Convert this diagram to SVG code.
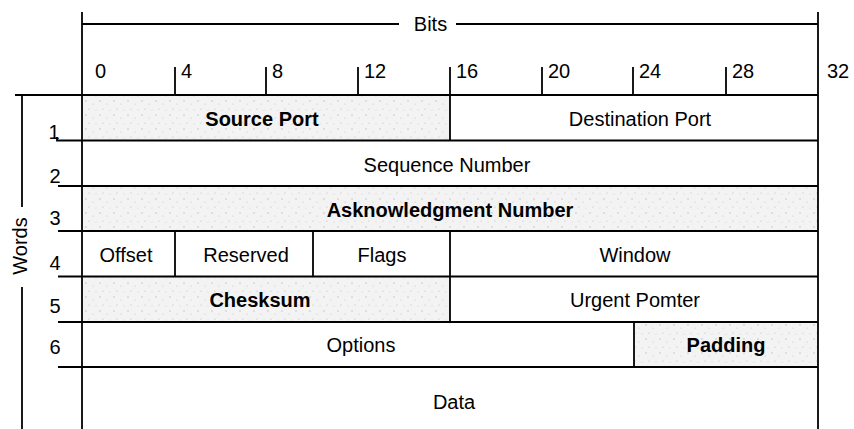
<svg xmlns="http://www.w3.org/2000/svg" width="854" height="429" viewBox="0 0 854 429">
<defs>
<pattern id="speck" width="14" height="14" patternUnits="userSpaceOnUse">
<rect width="14" height="14" fill="#f3f3f3"/>
<circle cx="2" cy="3" r="0.7" fill="#bbb"/>
<circle cx="9" cy="6" r="0.6" fill="#c4c4c4"/>
<circle cx="5" cy="11" r="0.6" fill="#bdbdbd"/>
<circle cx="12" cy="12" r="0.5" fill="#c8c8c8"/>
</pattern>
</defs>
<style>
.ln{stroke:#000;stroke-width:1.8;fill:none}
.sh{fill:url(#speck)}
.t{font-family:"Liberation Sans",Arial,sans-serif;font-size:20px;fill:#000;text-anchor:middle}
.b{font-weight:bold}
.d{font-family:"Liberation Sans",Arial,sans-serif;font-size:20px;fill:#000}
.n{font-family:"Liberation Sans",Arial,sans-serif;font-size:20px;fill:#000;text-anchor:middle}
</style>
<rect width="854" height="429" fill="#fff"/>

<g id="shading">
<rect class="sh" x="83" y="96" width="367" height="44"/>
<rect class="sh" x="83" y="187" width="735" height="44"/>
<rect class="sh" x="83" y="277" width="367" height="45"/>
<rect class="sh" x="634" y="323" width="184" height="44"/>
</g>

<g id="connectors">
<line class="ln" x1="82" y1="12" x2="82" y2="429"/>
<line class="ln" x1="818" y1="12" x2="818" y2="429"/>
<line class="ln" x1="82" y1="24" x2="399" y2="24"/>
<line class="ln" x1="456" y1="24" x2="818" y2="24"/>
<line class="ln" x1="175" y1="67" x2="175" y2="95"/>
<line class="ln" x1="266" y1="67" x2="266" y2="95"/>
<line class="ln" x1="358" y1="67" x2="358" y2="95"/>
<line class="ln" x1="542" y1="67" x2="542" y2="95"/>
<line class="ln" x1="633" y1="67" x2="633" y2="95"/>
<line class="ln" x1="726" y1="67" x2="726" y2="95"/>
<line class="ln" x1="450" y1="67" x2="450" y2="140.5"/>
<line class="ln" x1="15" y1="95" x2="818" y2="95"/>
<path class="ln" d="M57 137 L57 140.5 L818 140.5"/>
<line class="ln" x1="58" y1="186" x2="818" y2="186"/>
<line class="ln" x1="58" y1="231" x2="818" y2="231"/>
<line class="ln" x1="58" y1="276.5" x2="818" y2="276.5"/>
<line class="ln" x1="58" y1="322" x2="818" y2="322"/>
<line class="ln" x1="58" y1="367" x2="818" y2="367"/>
<line class="ln" x1="175" y1="231" x2="175" y2="276.5"/>
<line class="ln" x1="313" y1="231" x2="313" y2="276.5"/>
<line class="ln" x1="450" y1="231" x2="450" y2="322"/>
<line class="ln" x1="634" y1="322" x2="634" y2="367"/>
<line class="ln" x1="22" y1="95" x2="22" y2="207"/>
<line class="ln" x1="22" y1="287" x2="22" y2="429"/>
</g>

<g id="axis-labels">
<text class="t" x="430.5" y="31">Bits</text>
<text class="d" x="95" y="78">0</text>
<text class="d" x="181" y="78">4</text>
<text class="d" x="272" y="78">8</text>
<text class="d" x="364" y="78">12</text>
<text class="d" x="456" y="78">16</text>
<text class="d" x="548" y="78">20</text>
<text class="d" x="639" y="78">24</text>
<text class="d" x="732" y="78">28</text>
<text class="d" x="827" y="78">32</text>
<text class="t" transform="translate(27 246) rotate(-90)">Words</text>
<text class="n" x="54" y="139">1</text>
<text class="n" x="55" y="183">2</text>
<text class="n" x="55" y="225">3</text>
<text class="n" x="55" y="270">4</text>
<text class="n" x="55" y="313">5</text>
<text class="n" x="55" y="354">6</text>
</g>

<g id="source-port"><text class="t b" x="262" y="126">Source Port</text></g>
<g id="destination-port"><text class="t" x="640" y="126">Destination Port</text></g>
<g id="sequence-number"><text class="t" x="447" y="172">Sequence Number</text></g>
<g id="ack-number"><text class="t b" x="450" y="217">Asknowledgment Number</text></g>
<g id="offset"><text class="t" x="126" y="262">Offset</text></g>
<g id="reserved"><text class="t" x="246" y="262">Reserved</text></g>
<g id="flags"><text class="t" x="382" y="262">Flags</text></g>
<g id="window"><text class="t" x="635" y="262">Window</text></g>
<g id="checksum"><text class="t b" x="260" y="307">Chesksum</text></g>
<g id="urgent-pointer"><text class="t" x="635" y="307">Urgent Pomter</text></g>
<g id="options"><text class="t" x="361" y="352">Options</text></g>
<g id="padding"><text class="t b" x="726" y="352">Padding</text></g>
<g id="data"><text class="t" x="454" y="409">Data</text></g>
</svg>
